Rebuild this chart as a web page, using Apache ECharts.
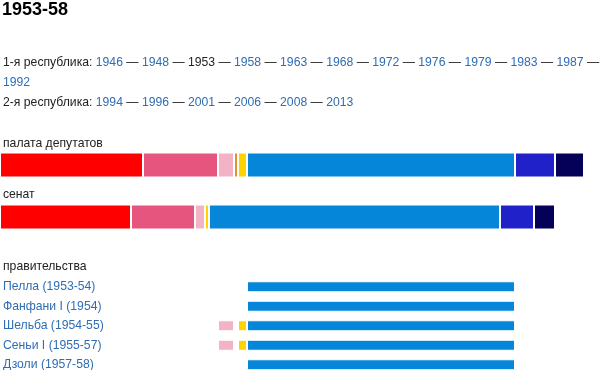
<!DOCTYPE html>
<html>
<head>
<meta charset="utf-8">
<script src="https://cdn.jsdelivr.net/npm/echarts@6/dist/echarts.min.js"></script>
<style>html,body{margin:0;padding:0;background:#fff;overflow:hidden}#c{width:600px;height:400px}</style>
</head>
<body>
<div id="c"></div>
<script>
// ---- data ----
const titleText = '1953-58';
const currentYear = '1953';
const republic1Label = '1-я республика: ';
const republic1Years = ['1946','1948','1953','1958','1963','1968','1972','1976','1979','1983','1987','1992'];
const republic2Label = '2-я республика: ';
const republic2Years = ['1994','1996','2001','2006','2008','2013'];
const parties = ['PCI','PSI','PSDI','PRI','PLI','DC','PNM','MSI'];
const partyColors = ['#ff0000','#e6557e','#f3b3c7','#e48f2a','#ffd200','#0586d9','#2121c9','#050058'];
const chamberLabel = 'палата депутатов';
const chamberValues = [143,75,16,4,9,268,40,29];
const senateLabel = 'сенат';
const senateValues = [131,64,10,null,4,291,34,21];
const govLabel = 'правительства';
const governments = ['Пелла (1953-54)','Фанфани I (1954)','Шельба (1954-55)','Сеньи I (1955-57)','Дзоли (1957-58)'];
const govMembers = [['DC'],['DC'],['DC','PSDI','PLI'],['DC','PSDI','PLI'],['DC']];

const LINK = '#2f6db3';
const TXT = '#222';
const FONT = 'Liberation Sans, Arial, sans-serif';
const FS = 12.2;

function yearsRich(label, years) {
  let s = label ? '{t|' + label + '}' : '';
  years.forEach((y, i) => {
    s += (y === currentYear ? '{t|' + y + '}' : '{a|' + y + '}');
    if (i < years.length - 1) s += '{t| — }';
  });
  return s;
}
const line1 = yearsRich(republic1Label, republic1Years.slice(0, -1)) + '{t| —}';
const line1b = yearsRich('', republic1Years.slice(-1));
const line3 = yearsRich(republic2Label, republic2Years);
const rich = {
  t: {fill: TXT, fontSize: FS, fontFamily: FONT},
  a: {fill: LINK, fontSize: FS, fontFamily: FONT}
};

const chart = echarts.init(document.getElementById('c'), null, {renderer: 'canvas'});

const grids = [
  {left: 0, right: 0, top: 152.5, height: 25},
  {left: 0, right: 0, top: 204.5, height: 25},
  {left: 0, right: 0, top: 277, height: 97.5}
];
const xAxes = grids.map((g, i) => ({type: 'value', gridIndex: i, min: 0, max: 600, show: false}));
const yAxes = [
  {type: 'category', gridIndex: 0, data: ['c'], show: false},
  {type: 'category', gridIndex: 1, data: ['s'], show: false},
  {type: 'category', gridIndex: 2, data: governments, inverse: true,
   axisLine: {show: false}, axisTick: {show: false}, splitLine: {show: false},
   axisLabel: {inside: true, margin: 3, color: LINK, fontSize: FS, fontFamily: FONT}}
];

const series = [];
parties.forEach((p, k) => {
  const base = {type: 'bar', name: p, barCategoryGap: 0, silent: true,
    itemStyle: {color: partyColors[k], borderColor: '#fff', borderWidth: 1}};
  series.push(Object.assign({}, base, {xAxisIndex: 0, yAxisIndex: 0, stack: 'c', barWidth: 25, data: [chamberValues[k]]}));
  series.push(Object.assign({}, base, {xAxisIndex: 1, yAxisIndex: 1, stack: 's', barWidth: 25, data: [senateValues[k]]}));
  series.push(Object.assign({}, base, {xAxisIndex: 2, yAxisIndex: 2, stack: 'g', barWidth: 11,
    data: govMembers.map(m => m.includes(p)
      ? {value: chamberValues[k]}
      : {value: chamberValues[k], itemStyle: {color: 'rgba(0,0,0,0)', borderColor: 'rgba(0,0,0,0)'}})}));
});

chart.setOption({
  animation: false,
  grid: grids,
  xAxis: xAxes,
  yAxis: yAxes,
  series: series,
  graphic: [
    {type: 'text', left: 2, top: 1, silent: true, style: {text: titleText, fill: '#000', font: 'bold 18px ' + FONT}},
    {type: 'text', left: 3, top: 57, silent: true, style: {text: line1, rich: rich}},
    {type: 'text', left: 3, top: 77, silent: true, style: {text: line1b, rich: rich}},
    {type: 'text', left: 3, top: 97, silent: true, style: {text: line3, rich: rich}},
    {type: 'text', left: 3, top: 138, silent: true, style: {text: chamberLabel, fill: TXT, font: FS + 'px ' + FONT}},
    {type: 'text', left: 3, top: 189, silent: true, style: {text: senateLabel, fill: TXT, font: FS + 'px ' + FONT}},
    {type: 'text', left: 3, top: 261, silent: true, style: {text: govLabel, fill: TXT, font: FS + 'px ' + FONT}}
  ]
});
</script>
</body>
</html>
